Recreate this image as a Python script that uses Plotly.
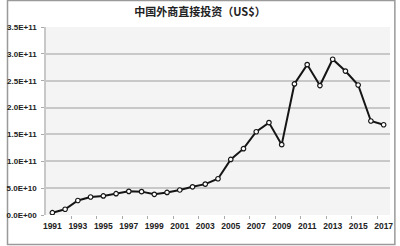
import plotly.graph_objects as go

years = list(range(1991, 2018))
fdi = [4.3e9, 1.07e10, 2.7e10, 3.35e10, 3.55e10, 3.97e10, 4.4e10, 4.35e10, 3.85e10, 4.2e10,
       4.65e10, 5.25e10, 5.75e10, 6.75e10, 1.035e11, 1.235e11, 1.55e11, 1.72e11, 1.31e11,
       2.44e11, 2.80e11, 2.41e11, 2.90e11, 2.68e11, 2.42e11, 1.75e11, 1.68e11]
y_ticks = [0, 5e10, 1e11, 1.5e11, 2e11, 2.5e11, 3e11, 3.5e11]
y_labels = ["0.0E+00", "5.0E+10", "1.0E+11", "1.5E+11", "2.0E+11", "2.5E+11", "3.0E+11", "3.5E+11"]
x_labels = list(range(1991, 2018, 2))
title = "中国外商直接投资（US$）"

W, H = 400, 246
ml, mr, mt, mb = 40, 7, 27, 31
pw, ph = W - ml - mr, H - mt - mb

fig = go.Figure()
fig.add_trace(go.Scatter(
    x=years, y=fdi, mode="lines+markers",
    line=dict(color="#151515", width=2),
    marker=dict(symbol="circle", size=4.5, color="white", line=dict(color="#151515", width=1.2)),
    showlegend=False, hoverinfo="skip"))

fig.update_layout(
    width=W, height=H,
    margin=dict(l=ml, r=mr, t=mt, b=mb),
    paper_bgcolor="white", plot_bgcolor="#f4f4f4",
    title=dict(text="<b>" + title + "</b>", x=0.5, xref="container", xanchor="center",
               y=1 - 12 / H, yanchor="middle",
               font=dict(family="Noto Sans CJK SC", size=11, color="#222")),
    font=dict(family="Liberation Sans", size=8, color="#222"),
)
fig.update_xaxes(
    range=[1990.5, 2017.5], tickmode="array", tickvals=x_labels,
    ticktext=["<b>%d</b>" % v for v in x_labels],
    ticks="", showgrid=False, zeroline=False, showline=False,
    ticklabelstandoff=4,
    tickfont=dict(size=8.5, color="#222"),
    minor=dict(tickmode="array", tickvals=[1992.5 + 2 * k for k in range(13)],
               ticks="outside", ticklen=3, tickcolor="#aaa", showgrid=False))
fig.update_yaxes(
    range=[0, 3.5e11], tickmode="array", tickvals=y_ticks,
    ticktext=["<b>%s</b>" % s for s in y_labels],
    ticks="outside", ticklen=3, tickcolor="#aaa",
    ticklabelstandoff=3,
    showgrid=True, gridcolor="#c8c8c8", gridwidth=1.5,
    zeroline=False, showline=True, linecolor="#c8c8c8", linewidth=1.5,
    tickfont=dict(size=8, color="#222"))

# outer frame around whole image
fig.add_shape(type="rect", xref="paper", yref="paper",
              x0=(-ml + 0.5) / pw, x1=(pw + mr - 2) / pw,
              y0=(-mb + 1.5) / ph, y1=(ph + mt - 0.5) / ph,
              line=dict(color="#9a9a9a", width=1.5), fillcolor="rgba(0,0,0,0)", layer="below")

fig.write_html("out.html")
